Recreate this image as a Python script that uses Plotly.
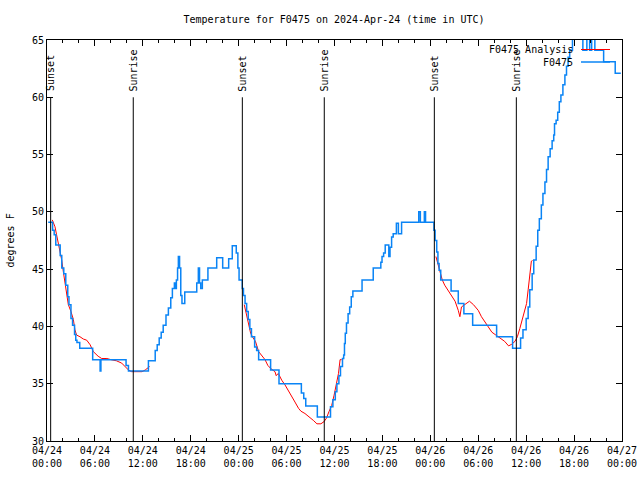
import pandas as pd
import plotly.graph_objects as go

BASE = pd.Timestamp("2024-04-24 00:00")

# Observed station temperature (hours since 2024-04-24 00:00 UTC, degrees F), step series
obs_hours = [0.15, 0.7, 0.9, 1.1, 1.65, 1.85, 2.1, 2.35, 2.6, 2.75, 3.0, 3.2, 3.45, 3.6, 3.75, 4.1,
             5.72, 6.65, 6.75, 9.9, 10.2, 12.7, 13.55, 13.8, 14.05, 14.3, 14.55, 14.9, 15.2, 15.5,
             15.7, 15.95, 16.1, 16.2, 16.35, 16.45, 16.6, 16.75, 16.9, 17.25, 18.75, 18.95, 19.1,
             19.25, 19.45, 20.15, 21.25, 22.0, 22.75, 23.2, 23.7, 23.9, 24.05, 24.45, 24.6, 24.8,
             25.0, 25.2, 25.4, 25.6, 26.0, 26.25, 26.5, 28.0, 29.05, 31.85, 32.15, 32.4, 33.85,
             35.5, 35.8, 36.1, 36.3, 36.55, 36.75, 37.0, 37.15, 37.25, 37.35, 37.5, 37.7, 37.9,
             38.1, 38.3, 39.45, 40.85, 41.8, 41.95, 42.15, 42.35, 42.8, 42.95, 43.15, 43.35, 43.75,
             44.0, 44.4, 46.55, 46.75, 47.25, 47.4, 48.45, 48.6, 48.8, 48.95, 49.1,
             49.3, 50.6, 51.5, 52.2, 53.3, 56.3, 58.3, 59.3, 59.6, 60.0, 60.25, 60.45, 60.75, 60.95,
             61.25, 61.45, 61.65, 61.9, 62.1, 62.35, 62.55, 62.75, 63.0, 63.25, 63.45, 63.55, 63.75,
             63.95, 64.15, 64.35, 64.6, 64.85, 65.05, 65.25, 65.45, 65.8, 67.1, 67.6, 67.95, 68.2,
             68.6, 69.7, 71.15, 71.85]
obs_temp = [49.1, 48.4, 48.0, 47.1, 46.2, 45.1, 44.6, 43.6, 42.6, 41.9, 40.7, 40.1, 39.3, 38.8, 38.6, 38.1,
            37.1, 36.1, 37.1, 36.6, 36.1, 37.0, 37.9, 38.4, 39.0, 39.5, 40.1, 41.0, 41.6, 42.5,
            43.3, 43.8, 43.3, 44.05, 45.1, 46.1, 45.1, 42.7, 42.0, 43.0, 43.8, 45.1, 43.8,
            43.3, 44.05, 45.1, 46.0, 45.1, 45.9, 47.05, 46.4, 45.1, 44.05, 43.3, 42.7, 42.0,
            41.3, 40.6, 39.8, 39.1, 38.2, 37.9, 37.1, 36.2, 35.0, 34.2, 33.7, 33.05, 32.1,
            33.0, 33.6, 34.3, 35.0, 35.7, 36.5, 37.2, 37.5, 38.5, 39.4, 40.3, 41.1, 41.7,
            42.6, 43.1, 44.05, 45.1, 45.6, 46.1, 46.4, 47.1, 46.1, 46.9, 47.8, 48.1, 49.0,
            48.1, 49.1, 50.0, 49.1, 50.0, 49.1, 48.4, 47.5, 46.5, 45.5, 44.9,
            44.05, 43.1, 42.0, 41.1, 40.1, 39.1, 38.1, 39.0, 39.7, 40.7, 41.7, 43.2, 44.6, 45.8,
            47.0, 48.4, 49.4, 50.6, 51.6, 52.6, 53.7, 54.8, 55.5, 56.2, 56.7, 57.7, 58.0,
            58.7, 59.6, 60.2, 61.1, 61.95, 62.7, 63.5, 64.1, 65.5, 64.1, 65.5, 64.1, 65.5,
            64.1, 63.1, 62.1, 62.1]

# Analysis series (None = gap)
ana_hours = [0.66, 1.0, 1.2, 1.4, 1.63, 1.84, 2.04, 2.25, 2.47, 2.67, 3.0, 3.3, 3.5, 3.7, 4.13, 4.55,
             4.97, 5.4, 5.8, 6.4, 6.85, 7.5, 8.0, 8.7, 9.35, 9.8, 10.2, 10.6, 11.9, 12.3, 12.85,
             12.9,
             24.7, 25.0, 25.3, 25.5, 25.8, 26.1, 26.5, 26.9, 27.3, 27.65, 28.05, 28.55, 28.7, 28.96,
             29.4, 29.8, 30.2, 30.6, 31.05, 31.5, 31.8, 32.3, 32.7, 33.35, 33.8, 34.3, 34.7, 35.0,
             35.3, 35.65, 35.95, 36.2, 36.5, 36.7, 36.9,
             37.0,
             48.7, 49.0, 49.2, 49.5, 49.8, 50.2, 50.7, 51.1, 51.5, 51.7, 51.9, 52.3, 52.9, 53.4,
             54.0, 54.4, 54.85, 55.26, 55.7, 56.2, 56.7, 57.3, 57.8, 58.2, 58.6, 58.9, 59.2, 59.5,
             59.85, 60.05, 60.25, 60.4, 60.55, 60.65, 60.8]
ana_temp = [49.3, 48.7, 48.0, 47.4, 46.5, 45.8, 44.8, 43.9, 43.0, 41.9, 41.3, 40.6, 39.7, 39.25, 39.1, 38.9,
            38.8, 38.4, 37.8, 37.4, 37.2, 37.2, 37.1, 37.0, 36.8, 36.5, 36.2, 36.05, 36.05, 36.2, 36.5,
            None,
            41.9, 41.0, 40.1, 39.4, 39.0, 38.7, 37.8, 37.4, 37.1, 36.6, 36.3, 36.05, 35.7, 35.9,
            35.3, 34.9, 34.45, 34.0, 33.4, 32.85, 32.6, 32.4, 32.2, 31.8, 31.5, 31.5, 31.7, 32.0,
            32.55, 33.1, 34.0, 34.9, 35.9, 37.1, 37.1,
            None,
            46.1, 45.4, 44.8, 44.05, 43.6, 43.2, 42.6, 42.2, 41.4, 40.85, 41.7, 41.9, 42.2, 41.9,
            41.4, 40.85, 40.4, 40.0, 39.5, 39.25, 39.0, 38.7, 38.3, 38.45, 38.7, 39.1, 39.8, 40.6,
            41.3, 42.0, 43.2, 44.05, 45.0, 45.7, 45.75]

sun_hours = [0.46, 10.8, 24.46, 34.72, 48.5, 58.77]
sun_labels = ["Sunset", "Sunrise", "Sunset", "Sunrise", "Sunset", "Sunrise"]

y_ticks = [30, 35, 40, 45, 50, 55, 60, 65]

def to_time(hs):
    return [BASE + pd.Timedelta(hours=h) for h in hs]

FONT = "DejaVu Sans Mono"
BLUE = "#0a84f5"
RED = "#ff0000"

fig = go.Figure()
fig.add_trace(go.Scatter(x=to_time(ana_hours), y=ana_temp, mode="lines", name="F0475 Analysis",
                         line=dict(color=RED, width=1), connectgaps=False))
fig.add_trace(go.Scatter(x=to_time(obs_hours), y=obs_temp, mode="lines", name="F0475",
                         line=dict(color=BLUE, width=1.5, shape="hv")))

for h, lab in zip(sun_hours, sun_labels):
    t = BASE + pd.Timedelta(hours=h)
    fig.add_shape(type="line", xref="x", yref="y", x0=t, x1=t, y0=30, y1=60,
                  line=dict(color="black", width=1))
    fig.add_annotation(x=t, y=60, xref="x", yref="y", text=lab, textangle=-90,
                       showarrow=False, xanchor="center", yanchor="bottom", yshift=4,
                       font=dict(family=FONT, size=10, color="black"))

# legend drawn gnuplot-style (text then sample line)
L, R, T, B = 47, 622, 40, 441
def px(x):
    return (x - L) / (R - L)
def py(y):
    return (B - y) / (B - T)
for name, color, ypix in [("F0475 Analysis", RED, 49.5), ("F0475", BLUE, 62)]:
    fig.add_annotation(x=px(575), y=py(ypix), xref="paper", yref="paper", text=name,
                       showarrow=False, xanchor="right", yanchor="middle",
                       font=dict(family=FONT, size=10, color="black"))
    fig.add_shape(type="line", xref="paper", yref="paper", x0=px(581), x1=px(610),
                  y0=py(ypix), y1=py(ypix), line=dict(color=color, width=1.5 if color == BLUE else 1))

fig.add_annotation(x=px(10), y=0.5, xref="paper", yref="paper", text="degrees F", textangle=-90,
                   showarrow=False, xanchor="center", yanchor="middle",
                   font=dict(family=FONT, size=10, color="black"))

fig.update_layout(
    width=640, height=480, template="none",
    paper_bgcolor="white", plot_bgcolor="white",
    margin=dict(l=L, r=640 - R, t=T, b=480 - B, pad=0, autoexpand=False),
    showlegend=False,
    title=dict(text="Temperature for F0475 on 2024-Apr-24 (time in UTC)",
               x=px(334), xref="paper", xanchor="center", y=1 - 19 / 480, yanchor="middle",
               font=dict(family=FONT, size=10, color="black")),
    font=dict(family=FONT, size=10, color="black"),
)
fig.update_xaxes(type="date", range=[BASE, BASE + pd.Timedelta(hours=72)], automargin=False,
                 tickmode="linear", tick0=BASE, dtick=6 * 3600 * 1000,
                 tickformat="%m/%d<br>%H:%M", ticks="inside", ticklen=6, tickcolor="black",
                 showline=True, linecolor="black", linewidth=1, mirror="allticks",
                 showgrid=False, zeroline=False,
                 minor=dict(dtick=2 * 3600 * 1000, ticks="inside", ticklen=3, tickcolor="black",
                            showgrid=False),
                 tickfont=dict(family=FONT, size=10, color="black"))
fig.update_yaxes(range=[30, 65], tickmode="array", tickvals=y_ticks, automargin=False,
                 ticktext=[str(v) for v in y_ticks],
                 ticks="inside", ticklen=6, tickcolor="black",
                 showline=True, linecolor="black", linewidth=1, mirror="allticks",
                 showgrid=False, zeroline=False,
                 tickfont=dict(family=FONT, size=10, color="black"))

fig.write_html("out.html", config={"displayModeBar": False},
               post_script="document.body.style.margin='0px';")
